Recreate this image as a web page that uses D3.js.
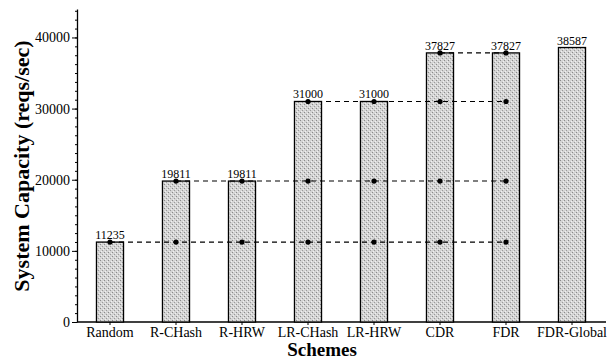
<!DOCTYPE html>
<html>
<head>
<meta charset="utf-8">
<script src="https://d3js.org/d3.v7.min.js"></script>
<style>
  body { margin: 0; background: #fff; }
  svg text { font-family: "Liberation Serif", "DejaVu Serif", serif; }
</style>
</head>
<body>
<div id="chart"></div>
<script>
// schemes on the x axis, capacity per scheme
var schemes = ["Random", "R-CHash", "R-HRW", "LR-CHash", "LR-HRW", "CDR", "FDR", "FDR-Global"];
var capacity = [11235, 19811, 19811, 31000, 31000, 37827, 37827, 38587];
var yTicks = [0, 10000, 20000, 30000, 40000];

// dashed reference levels: value, first scheme, last scheme
var refLevels = [11235, 19811, 31000, 37827];
var refStart = ["Random", "R-CHash", "LR-CHash", "CDR"];
var refEnd = ["FDR", "FDR", "FDR", "FDR"];

var W = 608, H = 360;
var svg = d3.select("#chart").append("svg").attr("width", W).attr("height", H);

var defs = svg.append("defs");
var pat = defs.append("pattern").attr("id", "stip")
  .attr("patternUnits", "userSpaceOnUse").attr("width", 4).attr("height", 4);
pat.append("rect").attr("width", 4).attr("height", 4).attr("fill", "#d4d4d4");
pat.append("rect").attr("x", 0).attr("y", 0).attr("width", 1).attr("height", 1).attr("fill", "#8a8a8a");
pat.append("rect").attr("x", 2).attr("y", 2).attr("width", 1).attr("height", 1).attr("fill", "#9a9a9a");
pat.append("rect").attr("x", 3).attr("y", 1).attr("width", 1).attr("height", 1).attr("fill", "#f0f0f0");
pat.append("rect").attr("x", 1).attr("y", 3).attr("width", 1).attr("height", 1).attr("fill", "#f0f0f0");

var x = d3.scaleBand().domain(schemes).range([77, 605]).paddingInner(0.59).paddingOuter(0.295);
var y = d3.scaleLinear().domain([0, 44000]).range([322, 9]);

// y axis with minor ticks
var g = svg.append("g");
g.append("g").attr("transform", "translate(77,0)")
  .call(d3.axisLeft(y).tickValues(d3.range(0, 44001, 1250)).tickSize(2).tickFormat(""))
  .call(function(s){ s.select(".domain").remove(); });
var yAx = g.append("g").attr("transform", "translate(77,0)")
  .call(d3.axisLeft(y).tickValues(yTicks).tickSize(5).tickSizeOuter(0).tickPadding(2).tickFormat(d3.format("d")));
yAx.select(".domain").attr("stroke-width", 1.3);
yAx.selectAll("text").attr("font-size", 14).attr("fill", "#000");

// x axis
var xAx = g.append("g").attr("transform", "translate(0,322)")
  .call(d3.axisBottom(x).tickSize(3).tickPadding(2));
xAx.select(".domain").attr("d", "M77,0H606").attr("stroke-width", 1.3);
xAx.selectAll("text").attr("font-size", 14).attr("fill", "#000");

// bars
svg.selectAll("rect.bar").data(schemes).enter().append("rect")
  .attr("class", "bar")
  .attr("x", function(d){ return x(d); })
  .attr("width", x.bandwidth())
  .attr("y", function(d, i){ return y(capacity[i]); })
  .attr("height", function(d, i){ return y(0) - y(capacity[i]); })
  .attr("fill", "url(#stip)")
  .attr("stroke", "#000").attr("stroke-width", 1.3);

// value labels
svg.selectAll("text.val").data(schemes).enter().append("text")
  .attr("class", "val")
  .attr("x", function(d){ return x(d) + x.bandwidth() / 2; })
  .attr("y", function(d, i){ return y(capacity[i]) - 3; })
  .attr("text-anchor", "middle").attr("font-size", 12)
  .text(function(d, i){ return capacity[i]; });

// dashed reference lines and dots
var cx = function(s){ return x(s) + x.bandwidth() / 2; };
refLevels.forEach(function(v, k){
  svg.append("line")
    .attr("x1", cx(refStart[k])).attr("x2", cx(refEnd[k]))
    .attr("y1", y(v)).attr("y2", y(v))
    .attr("stroke", "#000").attr("stroke-width", 1.1)
    .attr("stroke-dasharray", "5,4");
  var i0 = schemes.indexOf(refStart[k]), i1 = schemes.indexOf(refEnd[k]);
  schemes.slice(i0, i1 + 1).forEach(function(s){
    svg.append("circle").attr("cx", cx(s)).attr("cy", y(v)).attr("r", 2.6).attr("fill", "#000");
  });
});

// axis titles
svg.append("text")
  .attr("transform", "translate(29,166) rotate(-90)")
  .attr("text-anchor", "middle").attr("font-size", 22).attr("font-weight", "bold")
  .text("System Capacity (reqs/sec)");
svg.append("text")
  .attr("x", 322).attr("y", 356)
  .attr("text-anchor", "middle").attr("font-size", 19).attr("font-weight", "bold")
  .text("Schemes");
</script>
</body>
</html>
